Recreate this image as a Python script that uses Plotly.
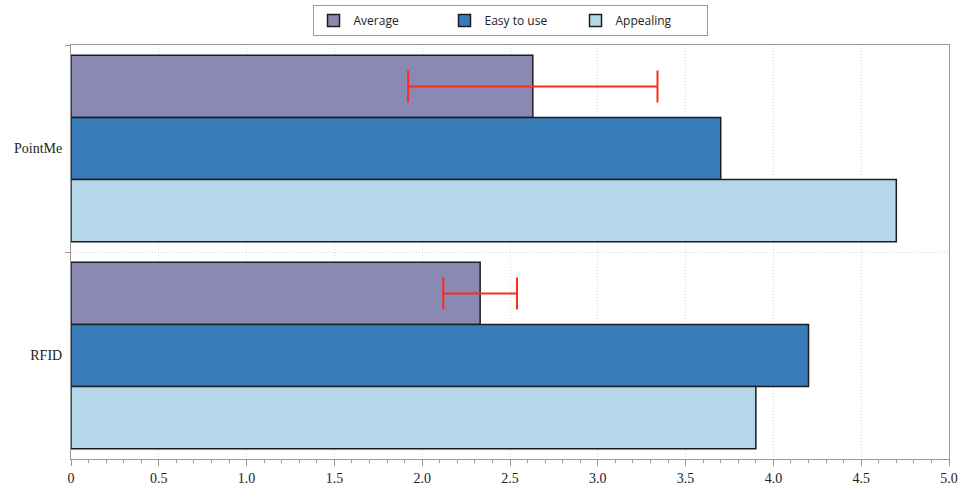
import plotly.graph_objects as go

categories = ["PointMe", "RFID"]
series_names = ["Average", "Easy to use", "Appealing"]
average = [2.63, 2.33]
average_err = [0.71, 0.21]
easy_to_use = [3.70, 4.20]
appealing = [4.70, 3.90]
x_ticks = [0, 0.5, 1.0, 1.5, 2.0, 2.5, 3.0, 3.5, 4.0, 4.5, 5.0]
x_tick_labels = ["0", "0.5", "1.0", "1.5", "2.0", "2.5", "3.0", "3.5", "4.0", "4.5", "5.0"]

colors = ["#8a89b3", "#387dba", "#b4d7ea"]
line_col = "#1c1c22"

fig = go.Figure()
fig.add_trace(go.Bar(
    y=categories, x=average, name=series_names[0], orientation="h",
    marker=dict(color=colors[0], line=dict(color=line_col, width=1.5)),
    error_x=dict(type="data", array=average_err, visible=True,
                 color="#ff2a1a", thickness=2, width=16),
))
fig.add_trace(go.Bar(
    y=categories, x=easy_to_use, name=series_names[1], orientation="h",
    marker=dict(color=colors[1], line=dict(color=line_col, width=1.5)),
))
fig.add_trace(go.Bar(
    y=categories, x=appealing, name=series_names[2], orientation="h",
    marker=dict(color=colors[2], line=dict(color=line_col, width=1.5)),
))

fig.update_layout(
    width=960, height=485,
    margin=dict(l=71, r=11, t=45, b=26, autoexpand=False),
    paper_bgcolor="white", plot_bgcolor="white",
    barmode="group", bargap=0.1, bargroupgap=0,
    showlegend=True,
    legend=dict(
        orientation="h", x=0.5, xanchor="center", xref="paper",
        y=1 - 5 / 485, yref="container", yanchor="top",
        bordercolor="#9a9a9a", borderwidth=1, bgcolor="white",
        font=dict(family="Open Sans", size=12, color="#222"),
        entrywidth=86, entrywidthmode="pixels",
        traceorder="normal",
    ),
    font=dict(family="Liberation Serif", size=14, color="#222"),
)

grid_dash = "1px,2px"
fig.update_xaxes(
    range=[0, 5.0], tickvals=x_ticks, ticktext=x_tick_labels,
    ticks="outside", ticklen=6, tickcolor="#999", tickwidth=1,
    showline=True, linecolor="#999", linewidth=1, mirror=True,
    showgrid=True, gridcolor="#d8d8d8", griddash=grid_dash, gridwidth=1,
    zeroline=False, automargin=False,
    minor=dict(dtick=0.1, ticks="outside", ticklen=3, tickcolor="#999", showgrid=False),
    tickfont=dict(family="Liberation Serif", size=14, color="#222"),
)
fig.update_yaxes(
    autorange="reversed", type="category",
    ticks="outside", ticklen=5, tickcolor="#999", tickson="boundaries",
    ticklabelstandoff=5,
    showline=True, linecolor="#999", linewidth=1, mirror=True,
    showgrid=True, gridcolor="#d8d8d8", griddash=grid_dash, gridwidth=1,
    zeroline=False, automargin=False,
    tickfont=dict(family="Liberation Serif", size=14, color="#222"),
)

fig.write_html(
    "out.html",
    config={"displayModeBar": False},
    post_script="document.body.style.margin='0';document.body.style.padding='0';",
)
